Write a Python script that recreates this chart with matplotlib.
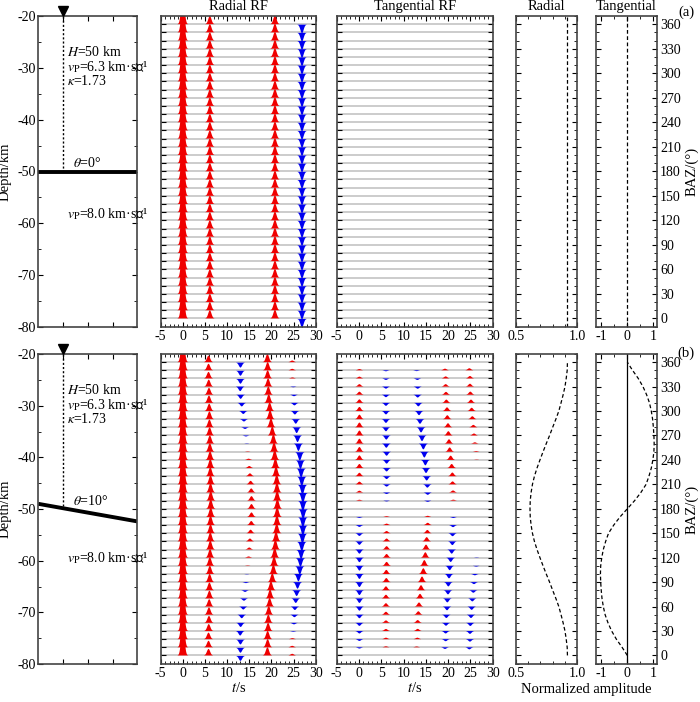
import matplotlib
matplotlib.use('Agg')
import matplotlib.pyplot as plt
import numpy as np
from matplotlib.ticker import MultipleLocator, FormatStrFormatter

plt.rcParams['font.family'] = ['Liberation Serif', 'DejaVu Serif']
plt.rcParams['mathtext.fontset'] = 'stix'
plt.rcParams['font.size'] = 10
plt.rcParams['axes.unicode_minus'] = False

# back azimuths of the traces
baz = list(range(0, 361, 10))

# model (a) flat Moho, (b) dipping Moho
iface_x = [0, 4]
iface_a = [-50, -50]
iface_b = [-49.0, -52.4]

# (a) flat layer: same arrivals on every trace  (time s, amplitude in deg units)
flat_rad_t = [0.0, 6.1, 20.8, 26.8]
flat_rad_a = [40, 10, 10.5, -10.5]

# (b) dipping layer, radial
P_amp = 40
rad_ps_t = [5.8,5.8,5.8,5.85,5.9,5.9,5.95,6.0,6.0,6.05,6.1,6.1,6.15,6.2,6.2,6.25,6.25,6.3,6.3,
            6.3,6.25,6.25,6.2,6.2,6.15,6.1,6.1,6.05,6.0,6.0,5.95,5.9,5.9,5.85,5.8,5.8,5.8]
rad_ps_a = [8,8,8,8.5,8.5,9,9,9.5,9.5,10,10,10.5,10.5,11,11,11,11.5,11.5,11.5,
            11.5,11.5,11,11,11,10.5,10.5,10,10,9.5,9.5,9,9,8.5,8.5,8,8,8]
rad_x_t = [12.9,12.9,12.9,12.95,13.05,13.3,13.65,13.8,14.05,14.25,14.45,14.65,14.85,15.0,15.15,15.3,15.45,15.5,15.5,
           15.5,15.45,15.3,15.15,15.0,14.85,14.65,14.45,14.25,14.05,13.8,13.65,13.3,13.05,12.95,12.9,12.9,12.9]
rad_x_a = [-6,-6,-5.8,-5.5,-5,-4.3,-3.6,-2.8,-2,-1.2,-0.4,0.5,1.5,2.5,3.5,4.3,5,5.5,5.8,
           5.5,5,4.3,3.5,2.5,1.5,0.5,-0.4,-1.2,-2,-2.8,-3.6,-4.3,-5,-5.5,-5.8,-6,-6]
rad_pp_t = [19.1,19.15,19.15,19.25,19.3,19.4,19.6,19.7,19.9,20.2,20.45,20.6,20.75,20.9,21.05,21.2,21.25,21.3,21.35,
            21.3,21.25,21.2,21.05,20.9,20.75,20.6,20.45,20.2,19.9,19.7,19.6,19.4,19.3,19.25,19.15,19.15,19.1]
rad_pp_a = [10,10,10,10,10,10.5,10.5,11,11,11,11.5,11.5,12,12,12,12,12,12,12,
            12,12,12,12,12,12,11.5,11.5,11,11,11,10.5,10.5,10,10,10,10,10]
rad_m_t = [24.7,24.7,24.75,24.95,25.1,25.2,25.3,25.5,25.7,25.9,26.1,26.3,26.45,26.6,26.75,26.9,27.0,27.0,27.05,
           27.0,27.0,26.9,26.75,26.6,26.45,26.3,26.1,25.9,25.7,25.5,25.3,25.2,25.1,24.95,24.75,24.7,24.7]
rad_m_a = [2,1.8,1.2,-0.8,-1.8,-3,-4.2,-5.5,-7,-8,-9,-10,-10.5,-11,-11.5,-12,-12,-12,-12,
           -12,-12,-12,-11.5,-11,-10.5,-10,-9,-8,-7,-5.5,-4.2,-3,-1.8,-0.8,1.2,1.8,2]

# (b) dipping layer, tangential
tan_p_t = 0.1
tan_p_a = [0,-1.5,-2.2,-3,-3.7,-4.3,-5,-5.5,-5.8,-6,-6,-5.8,-5.5,-5,-4.2,-3.3,-2.2,-1.1,0,
           1.1,2.2,3.3,4.2,5,5.5,5.8,6,6,5.8,5.5,5,4.3,3.7,3,2.2,1.5,0]
tan_ps_t = [6.05,6.05,6.05,6.05,6.05,6.05,6.05,6.05,6.05,6.13,6.13,6.2,6.2,6.2,6.2,6.2,6.2,6.2,6.2,
            6.2,6.2,6.2,6.2,6.2,6.2,6.2,6.13,6.13,6.05,6.05,6.05,6.05,6.05,6.05,6.05,6.05,6.05]
tan_ps_a = [0,1.2,1.8,2.5,3,3.6,4.1,4.5,4.8,5,5,4.8,4.5,4.1,3.5,2.7,1.8,0.9,0,
            -0.9,-1.8,-2.7,-3.5,-4.1,-4.5,-4.8,-5,-5,-4.8,-4.5,-4.1,-3.6,-3,-2.5,-1.8,-1.2,0]
tan_x_t = [12.9,12.94,13.1,13.17,13.17,13.32,13.47,13.69,13.92,14.14,14.44,14.66,14.89,15.04,15.19,15.34,15.42,15.42,15.45,
           15.42,15.42,15.34,15.19,15.04,14.89,14.66,14.44,14.14,13.92,13.69,13.47,13.32,13.17,13.17,13.1,12.94,12.9]
tan_x_a = [0,1,1.8,2.6,3.4,4.2,5,5.6,6.2,6.8,7,7,6.6,6,5.2,4,2.8,1.4,0,
           -1.4,-2.8,-4,-5.2,-6,-6.6,-7,-7,-6.8,-6.2,-5.6,-5,-4.2,-3.4,-2.6,-1.8,-1,0]
tan_pp_t = [19.3,19.3,19.45,19.45,19.52,19.6,19.75,19.82,19.97,20.05,20.2,20.35,20.57,20.8,20.95,21.0,21.1,21.17,21.2,
            21.17,21.1,21.0,20.95,20.8,20.57,20.35,20.2,20.05,19.97,19.82,19.75,19.6,19.52,19.45,19.45,19.3,19.3]
tan_pp_a = [0,-2,-2.5,-3,-3.5,-4,-4.5,-4.8,-5,-5.2,-5.3,-5.3,-5.2,-5,-4.5,-3.6,-2.5,-1.2,0,
            1.2,2.5,3.6,4.5,5,5.2,5.3,5.3,5.2,5,4.8,4.5,4,3.5,3,2.5,2,0]
tan_m_t = [24.76,24.76,24.9,24.9,24.98,25.13,25.28,25.43,25.66,25.8,26.0,26.3,26.4,26.5,26.5,26.5,26.5,26.5,26.5,
           26.5,26.5,26.5,26.5,26.5,26.4,26.3,26.0,25.8,25.66,25.43,25.28,25.13,24.98,24.9,24.9,24.76,24.76]
tan_m_a = [0,-2.5,-3,-3.5,-3.8,-4,-4,-3.6,-3,-2.4,-1.6,-0.9,-0.4,0,0,0,0,0,0,
           0,0,0,0,0,0.4,0.9,1.6,2.4,3,3.6,4,4,3.8,3.5,3,2.5,0]

# normalized P amplitudes
flat_rad_norm = 0.92
flat_tan_norm = 0.0
rad_norm = [0.92,0.918,0.91,0.90,0.885,0.868,0.85,0.826,0.80,0.775,0.748,0.722,0.697,0.673,0.652,0.636,0.625,0.618,0.616,
            0.618,0.625,0.636,0.652,0.673,0.697,0.722,0.748,0.775,0.80,0.826,0.85,0.868,0.885,0.90,0.91,0.918,0.92]
tan_norm = [0,-0.2,-0.42,-0.6,-0.74,-0.85,-0.92,-0.97,-1.0,-1.02,-1.03,-1.02,-0.98,-0.92,-0.83,-0.72,-0.52,-0.28,0,
            0.28,0.52,0.72,0.83,0.92,0.98,1.02,1.03,1.02,1.0,0.97,0.92,0.85,0.74,0.6,0.42,0.2,0]

RED = '#f00000'
BLUE = '#0000f0'
FRAME = '#444444'
sigma = 0.36
t = np.linspace(-5, 30, 1751)
FS = 10.5
MFS = 10


def style(ax):
    for s in ax.spines.values():
        s.set_color(FRAME)
        s.set_linewidth(1.2)
    ax.tick_params(which='both', direction='in', top=True, right=True, colors='k', labelsize=10, pad=2)
    ax.tick_params(which='major', length=3.5)
    ax.tick_params(which='minor', length=2)


def draw_traces(ax, phases):
    ax.hlines(baz, -5, 30, color='#c8c8c8', lw=1.3, zorder=1)
    for i, b in enumerate(baz):
        y = np.zeros_like(t)
        for tt, aa in phases:
            t0 = tt[i] if np.ndim(tt) else tt
            a0 = aa[i] if np.ndim(aa) else aa
            y += a0 * np.exp(-0.5 * ((t - t0) / sigma) ** 2)
        ax.fill_between(t, b, b + y, where=y > 0.15, color=RED, lw=0, interpolate=True, zorder=2)
        ax.fill_between(t, b, b + y, where=y < -0.15, color=BLUE, lw=0, interpolate=True, zorder=2)
    ax.set_xlim(-5, 30)
    ax.set_ylim(-10.5, 370)
    ax.xaxis.set_major_locator(MultipleLocator(5))
    ax.xaxis.set_minor_locator(MultipleLocator(1))
    ax.set_yticks(baz)
    ax.set_yticklabels([])
    style(ax)


def draw_model(ax, iface, dip, y_low):
    ax.set_xlim(0, 4)
    ax.set_ylim(-80, -20)
    ax.plot([1, 1], [-20, -50], ls=(0, (1.5, 1.5)), color='k', lw=1)
    ax.plot(iface_x, iface, color='k', lw=2.8, solid_capstyle='butt')
    ax.plot(1, -19.1, marker='v', ms=7, color='k', clip_on=False, zorder=5)
    ax.text(1.15, -27, r'$H$=50 km', ha='left', va='center', fontsize=MFS)
    ax.text(1.15, -29.8, r'$v_{\mathrm{P}}$=6.3 km·s⁻¹', ha='left', va='center', fontsize=MFS)
    ax.text(1.15, -32.5, r'$\kappa$=1.73', ha='left', va='center', fontsize=MFS)
    ax.text(1.4, -48.4, r'$\theta$=' + dip + '°', ha='left', va='center', fontsize=MFS)
    ax.text(1.15, y_low, r'$v_{\mathrm{P}}$=8.0 km·s⁻¹', ha='left', va='center', fontsize=MFS)
    ax.set_xticks([1, 2, 3])
    ax.set_xticklabels([])
    ax.yaxis.set_major_locator(MultipleLocator(10))
    ax.yaxis.set_minor_locator(MultipleLocator(5))
    ax.set_ylabel('Depth/km', fontsize=FS, labelpad=4)
    style(ax)


fig = plt.figure(figsize=(7, 7.02), dpi=100)
W, H = 700, 702
cols = [(38.3, 137.3), (160.7, 315.7), (336.7, 492.7), (515.7, 577.3), (596, 657.3)]
rows = [(16, 327), (354, 664)]


def make_ax(c, r):
    x0, x1 = cols[c]
    y0, y1 = rows[r]
    return fig.add_axes([x0 / W, 1 - y1 / H, (x1 - x0) / W, (y1 - y0) / H])


for r in range(2):
    axm = make_ax(0, r)
    axr = make_ax(1, r)
    axt = make_ax(2, r)
    axa = make_ax(3, r)
    axb = make_ax(4, r)

    if r == 0:
        draw_model(axm, iface_a, '0', -58.3)
        draw_traces(axr, list(zip(flat_rad_t, flat_rad_a)))
        draw_traces(axt, [])
        axa.axvline(flat_rad_norm, color='k', lw=0.9, ls=(0, (3, 2)))
        axb.axvline(flat_tan_norm, color='k', lw=0.9, ls=(0, (3, 2)))
        axr.set_title('Radial RF', fontsize=FS, pad=4)
        axt.set_title('Tangential RF', fontsize=FS, pad=4)
        axa.set_title('Radial', fontsize=FS, pad=4)
        axb.set_title('Tangential', fontsize=FS, pad=4)
    else:
        draw_model(axm, iface_b, '10', -59.6)
        draw_traces(axr, [(0.0, P_amp), (rad_ps_t, rad_ps_a), (rad_x_t, rad_x_a),
                          (rad_pp_t, rad_pp_a), (rad_m_t, rad_m_a)])
        draw_traces(axt, [(tan_p_t, tan_p_a), (tan_ps_t, tan_ps_a), (tan_x_t, tan_x_a),
                          (tan_pp_t, tan_pp_a), (tan_m_t, tan_m_a)])
        axa.plot(rad_norm, baz, color='k', lw=0.9, ls=(0, (3, 2)))
        axb.axvline(0, color='k', lw=0.9)
        axb.plot(tan_norm, baz, color='k', lw=0.9, ls=(0, (3, 2)))
        axr.set_xlabel(r'$t$/s', fontsize=FS, labelpad=1)
        axt.set_xlabel(r'$t$/s', fontsize=FS, labelpad=1)

    for ax in (axa, axb):
        ax.set_ylim(-10.5, 370)
        ax.yaxis.set_major_locator(MultipleLocator(30))
        ax.yaxis.set_minor_locator(MultipleLocator(10))
        style(ax)
    axa.set_xlim(0.5, 1.0)
    axa.set_xticks([0.5, 1.0])
    axa.xaxis.set_major_formatter(FormatStrFormatter('%.1f'))
    axa.xaxis.set_minor_locator(MultipleLocator(0.1))
    axa.set_yticklabels([])
    axb.set_xlim(-1.2, 1.15)
    axb.set_xticks([-1, 0, 1])
    axb.xaxis.set_minor_locator(MultipleLocator(0.5))
    axb.tick_params(axis='y', labelleft=False, labelright=True)
    axb.yaxis.set_label_position('right')
    axb.set_ylabel('BAZ/(°)', fontsize=FS, labelpad=3)

fig.text(686 / W, 1 - 12 / H, '(a)', ha='center', va='center', fontsize=FS)
fig.text(686 / W, 1 - 353 / H, '(b)', ha='center', va='center', fontsize=FS)
fig.text(586 / W, 1 - 690 / H, 'Normalized amplitude', ha='center', va='center', fontsize=FS)

fig.savefig('out.png', dpi=100)
